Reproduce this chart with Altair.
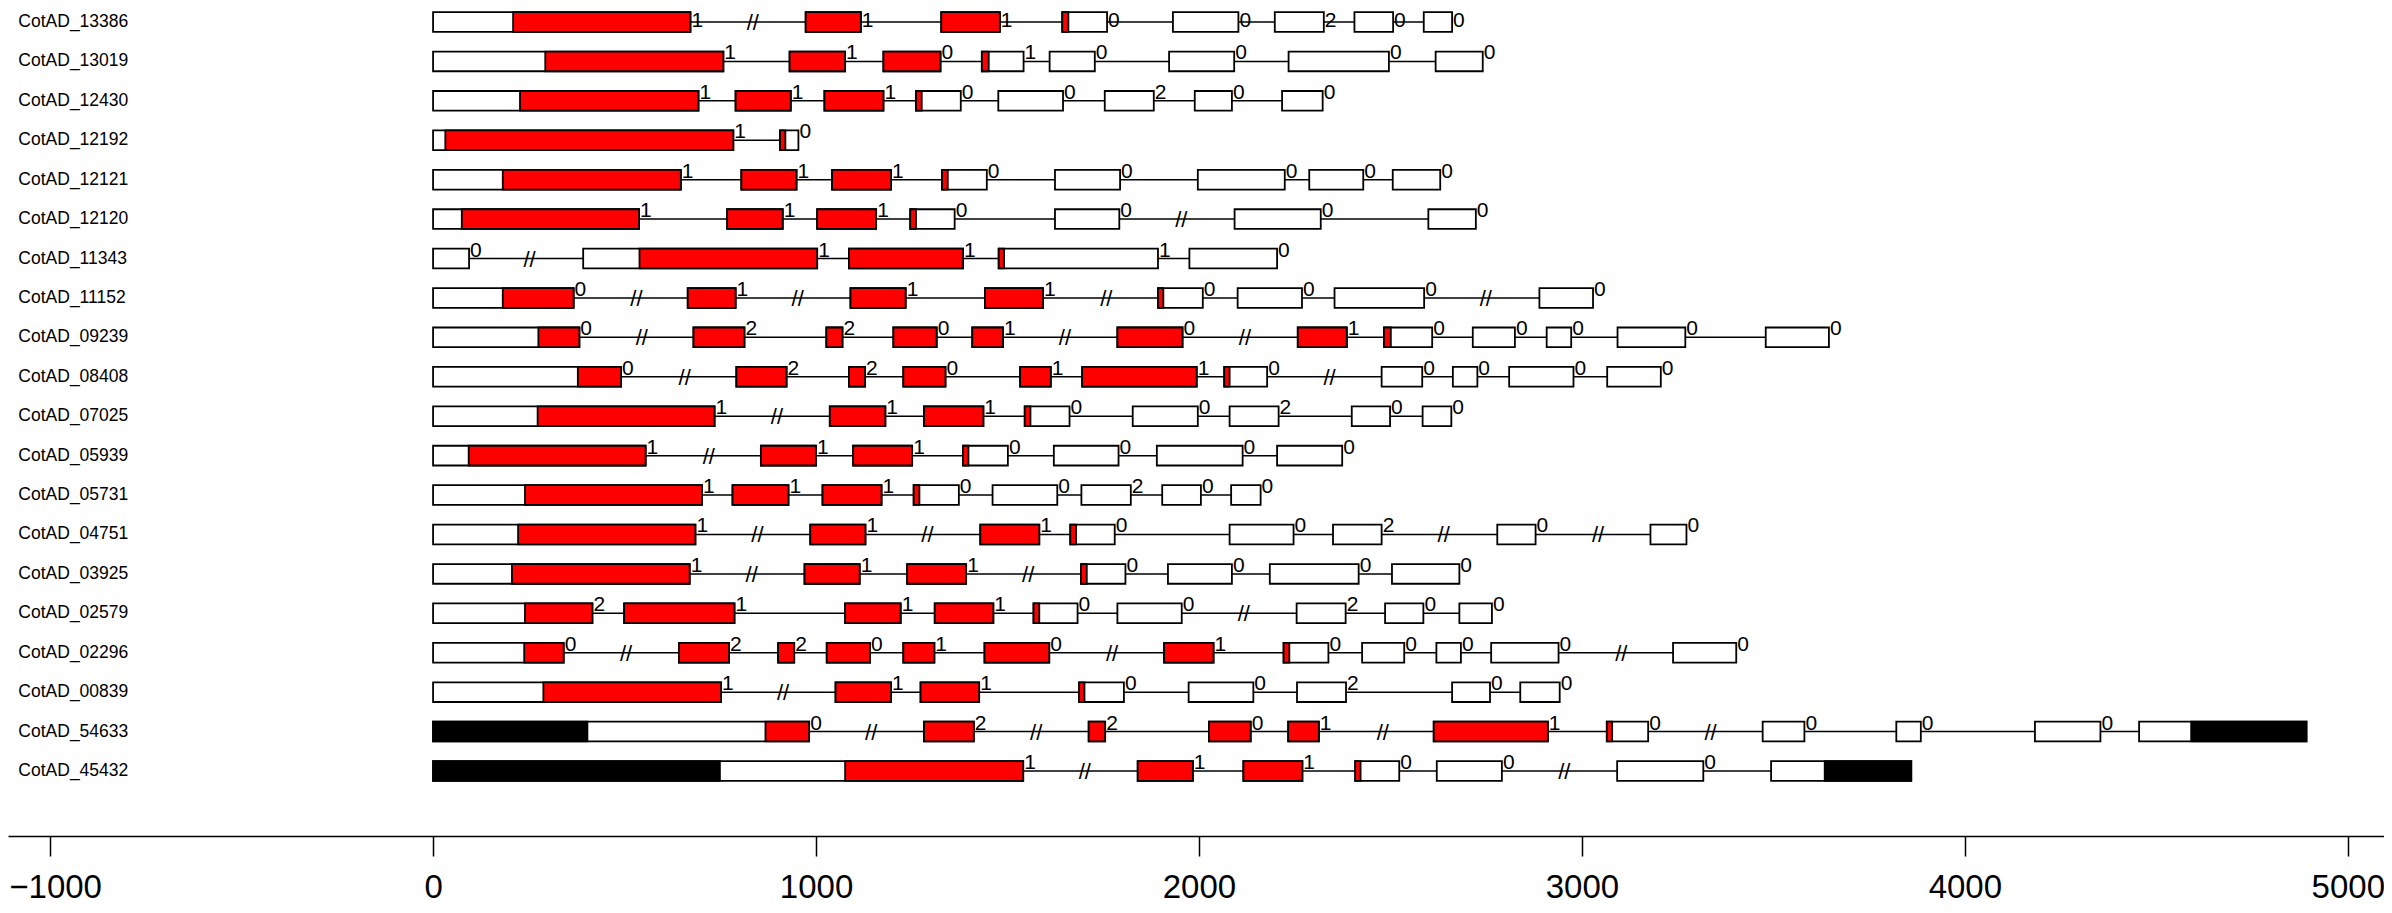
import altair as alt
import pandas as pd

gene_names = ["CotAD_13386", "CotAD_13019", "CotAD_12430", "CotAD_12192", "CotAD_12121",
              "CotAD_12120", "CotAD_11343", "CotAD_11152", "CotAD_09239", "CotAD_08408",
              "CotAD_07025", "CotAD_05939", "CotAD_05731", "CotAD_04751", "CotAD_03925",
              "CotAD_02579", "CotAD_02296", "CotAD_00839", "CotAD_54633", "CotAD_45432"]

exon_starts = [
    [0, 973, 1327, 1643, 1932, 2198, 2406, 2587],
    [0, 931, 1176, 1433, 1610, 1922, 2234, 2618],
    [0, 790, 1022, 1261, 1476, 1754, 1989, 2217],
    [0, 906],
    [0, 805, 1042, 1329, 1624, 1997, 2288, 2506],
    [0, 768, 1003, 1246, 1624, 2093, 2599],
    [0, 392, 1086, 1477, 1975],
    [0, 665, 1090, 1441, 1893, 2101, 2354, 2889],
    [0, 680, 1027, 1202, 1408, 1787, 2258, 2483, 2715, 2908, 3093, 3480],
    [0, 792, 1086, 1228, 1533, 1695, 2066, 2477, 2663, 2810, 3066],
    [0, 1036, 1282, 1545, 1827, 2080, 2399, 2584],
    [0, 856, 1097, 1384, 1621, 1890, 2204],
    [0, 782, 1017, 1255, 1461, 1693, 1904, 2084],
    [0, 985, 1429, 1664, 2080, 2350, 2779, 3179],
    [0, 970, 1238, 1692, 1919, 2185, 2504],
    [0, 499, 1076, 1310, 1568, 1787, 2255, 2486, 2680],
    [0, 642, 901, 1028, 1228, 1440, 1909, 2221, 2426, 2620, 2763, 3238],
    [0, 1051, 1273, 1687, 1973, 2256, 2661, 2839],
    [0, 1282, 1712, 2026, 2233, 2613, 3065, 3472, 3821, 4183, 4455],
    [0, 1840, 2116, 2408, 2621, 3092, 3494],
]
exon_ends = [
    [672, 1117, 1480, 1760, 2103, 2326, 2507, 2661],
    [758, 1076, 1325, 1542, 1728, 2092, 2496, 2741],
    [693, 934, 1176, 1378, 1645, 1882, 2086, 2323],
    [784, 954],
    [647, 949, 1196, 1446, 1794, 2224, 2429, 2630],
    [538, 913, 1157, 1362, 1792, 2318, 2723],
    [94, 1003, 1384, 1893, 2204],
    [367, 790, 1234, 1593, 2010, 2269, 2588, 3029],
    [382, 813, 1069, 1315, 1488, 1957, 2386, 2609, 2825, 2972, 3270, 3645],
    [491, 923, 1128, 1338, 1613, 1994, 2178, 2583, 2727, 2978, 3206],
    [735, 1181, 1437, 1662, 1997, 2208, 2499, 2659],
    [555, 1000, 1251, 1501, 1790, 2114, 2374],
    [702, 928, 1171, 1373, 1630, 1822, 2005, 2161],
    [685, 1129, 1583, 1780, 2247, 2477, 2879, 3273],
    [670, 1114, 1392, 1808, 2086, 2417, 2680],
    [416, 787, 1221, 1463, 1683, 1955, 2383, 2586, 2765],
    [341, 773, 943, 1141, 1309, 1609, 2038, 2338, 2536, 2684, 2939, 3403],
    [752, 1196, 1426, 1804, 2142, 2384, 2760, 2942],
    [982, 1412, 1755, 2135, 2313, 2911, 3173, 3581, 3885, 4354, 4892],
    [1541, 1984, 2270, 2523, 2791, 3317, 3860],
]
phases = [
    ["1", "1", "1", "0", "0", "2", "0", "0"],
    ["1", "1", "0", "1", "0", "0", "0", "0"],
    ["1", "1", "1", "0", "0", "2", "0", "0"],
    ["1", "0"],
    ["1", "1", "1", "0", "0", "0", "0", "0"],
    ["1", "1", "1", "0", "0", "0", "0"],
    ["0", "1", "1", "1", "0"],
    ["0", "1", "1", "1", "0", "0", "0", "0"],
    ["0", "2", "2", "0", "1", "0", "1", "0", "0", "0", "0", "0"],
    ["0", "2", "2", "0", "1", "1", "0", "0", "0", "0", "0"],
    ["1", "1", "1", "0", "0", "2", "0", "0"],
    ["1", "1", "1", "0", "0", "0", "0"],
    ["1", "1", "1", "0", "0", "2", "0", "0"],
    ["1", "1", "1", "0", "0", "2", "0", "0"],
    ["1", "1", "1", "0", "0", "0", "0"],
    ["2", "1", "1", "1", "0", "0", "2", "0", "0"],
    ["0", "2", "2", "0", "1", "0", "1", "0", "0", "0", "0", "0"],
    ["1", "1", "1", "0", "0", "2", "0", "0"],
    ["0", "2", "2", "0", "1", "1", "0", "0", "0", "0", ""],
    ["1", "1", "1", "0", "0", "0", ""],
]
cds_starts = [
    [209, 973, 1327, 1643],
    [293, 931, 1176, 1433],
    [227, 790, 1022, 1261],
    [32, 906],
    [182, 805, 1042, 1329],
    [75, 768, 1003, 1246],
    [539, 1086, 1477],
    [182, 665, 1090, 1441, 1893],
    [275, 680, 1027, 1202, 1408, 1787, 2258, 2483],
    [378, 792, 1086, 1228, 1533, 1695, 2066],
    [273, 1036, 1282, 1545],
    [93, 856, 1097, 1384],
    [240, 782, 1017, 1255],
    [222, 985, 1429, 1664],
    [206, 970, 1238, 1692],
    [240, 499, 1076, 1310, 1568],
    [238, 642, 901, 1028, 1228, 1440, 1909, 2221],
    [288, 1051, 1273, 1687],
    [868, 1282, 1712, 2026, 2233, 2613, 3065],
    [1076, 1840, 2116, 2408],
]
cds_ends = [
    [672, 1117, 1480, 1659],
    [758, 1076, 1325, 1451],
    [693, 934, 1176, 1276],
    [784, 920],
    [647, 949, 1196, 1344],
    [538, 913, 1157, 1261],
    [1003, 1384, 1491],
    [367, 790, 1234, 1593, 1907],
    [382, 813, 1069, 1315, 1488, 1957, 2386, 2501],
    [491, 923, 1128, 1338, 1613, 1994, 2080],
    [735, 1181, 1437, 1560],
    [555, 1000, 1251, 1398],
    [702, 928, 1171, 1270],
    [685, 1129, 1583, 1679],
    [670, 1114, 1392, 1707],
    [416, 787, 1221, 1463, 1583],
    [341, 773, 943, 1141, 1309, 1609, 2038, 2236],
    [752, 1196, 1426, 1701],
    [982, 1412, 1755, 2135, 2313, 2911, 3079],
    [1541, 1984, 2270, 2422],
]
black_starts = [[]] * 18 + [[0, 4591], [0, 3634]]
black_ends = [[]] * 18 + [[403, 4892], [749, 3860]]
break_pos = [
    [835], [], [], [], [], [1954], [252], [531, 952, 1758, 2749],
    [545, 1650, 2120], [657, 2341], [898], [720], [], [847, 1291, 2639, 3042],
    [832, 1554], [2117], [504, 1773, 3103], [914], [1144, 1575, 2480, 3336],
    [1702, 2954],
]
axis_ticks = [-1000, 0, 1000, 2000, 3000, 4000, 5000]

FONT = "Liberation Sans"
HALF = 0.25

exon_rows, cds_rows, black_rows, intron_rows, phase_rows, break_rows, name_rows = [], [], [], [], [], [], []
for i, g in enumerate(gene_names):
    intron_rows.append({"row": i, "x": min(exon_starts[i]), "x2": max(exon_ends[i])})
    name_rows.append({"row": i, "name": g, "x": -1083})
    for s, e, p in zip(exon_starts[i], exon_ends[i], phases[i]):
        exon_rows.append({"row": i, "s": s, "e": e, "top": i - HALF, "bot": i + HALF})
        if p:
            phase_rows.append({"row": i, "x": e, "label": p})
    for s, e in zip(cds_starts[i], cds_ends[i]):
        cds_rows.append({"row": i, "s": s, "e": e, "top": i - HALF, "bot": i + HALF})
    for s, e in zip(black_starts[i], black_ends[i]):
        black_rows.append({"row": i, "s": s, "e": e, "top": i - HALF, "bot": i + HALF})
    for b in break_pos[i]:
        break_rows.append({"row": i, "x": b, "t": "//"})

xs = alt.Scale(domain=[-1110, 5094.5], nice=False, zero=False)
ys = alt.Scale(domain=[-0.3551, 20.649], reverse=True, nice=False, zero=False)
xaxis = alt.Axis(values=axis_ticks, format="d", tickSize=20, labelFontSize=33, labelFont=FONT,
                 labelColor="black", domainColor="black", tickColor="black", domainWidth=1.5,
                 tickWidth=1.5, labelPadding=15, title=None, grid=False, labelFlush=False,
                 labelOverlap=False,
                 labelOffset={"condition": {"test": "datum.value == -1000", "value": 5}, "value": 0})


def X(f):
    return alt.X(f, type="quantitative", scale=xs, axis=xaxis)


def Y(f):
    return alt.Y(f, type="quantitative", scale=ys, axis=None)


introns = alt.Chart(pd.DataFrame(intron_rows)).mark_rule(color="black", strokeWidth=1.5).encode(
    x=X("x"), x2="x2", y=Y("row"))

rect_kw = dict(stroke="black", strokeWidth=1.8, strokeJoin="miter")
exons = alt.Chart(pd.DataFrame(exon_rows)).mark_rect(fill="white", **rect_kw).encode(
    x=X("s"), x2="e", y=Y("top"), y2="bot")
cds = alt.Chart(pd.DataFrame(cds_rows)).mark_rect(fill="#ff0000", **rect_kw).encode(
    x=X("s"), x2="e", y=Y("top"), y2="bot")
black = alt.Chart(pd.DataFrame(black_rows)).mark_rect(fill="black", **rect_kw).encode(
    x=X("s"), x2="e", y=Y("top"), y2="bot")
breaks = alt.Chart(pd.DataFrame(break_rows)).mark_text(
    font=FONT, fontSize=22, align="center", baseline="alphabetic", dy=8, color="black").encode(
    x=X("x"), y=Y("row"), text="t:N")

phase_df = pd.DataFrame(phase_rows)
phase_kw = dict(font=FONT, fontSize=21, align="left", baseline="alphabetic", dx=1, color="black")
phase_txt = alt.Chart(phase_df[phase_df["row"] > 0]).mark_text(dy=-2, **phase_kw).encode(
    x=X("x"), y=Y("row"), text="label:N")
# first row: nudged down slightly so the labels stay inside the page
phase_top = alt.Chart(phase_df[phase_df["row"] == 0]).mark_text(dy=5, **phase_kw).encode(
    x=X("x"), y=Y("row"), text="label:N")
names = alt.Chart(pd.DataFrame(name_rows)).mark_text(
    font=FONT, fontSize=17.5, align="left", baseline="middle", color="black").encode(
    x=X("x"), y=Y("row"), text="name:N")

chart = alt.layer(introns, exons, cds, black, breaks, phase_txt, phase_top, names).properties(
    width=2376, height=828,
    autosize=alt.AutoSizeParams(type="none"),
    padding={"left": 0, "top": 0, "right": 0, "bottom": 69},
).configure_view(stroke=None)

chart.save("out.html", embed_options={"renderer": "svg", "actions": False})
